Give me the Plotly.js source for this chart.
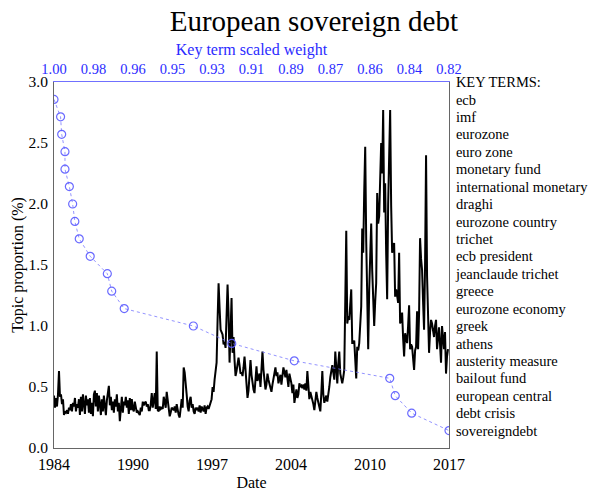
<!DOCTYPE html>
<html><head><meta charset="utf-8">
<script src="https://cdn.plot.ly/plotly-3.0.1.min.js"></script>
<style>html,body{margin:0;padding:0;background:#fff;}#chart{width:596px;height:491px;}</style>
</head><body><div id="chart"></div>
<script>
// Monthly topic proportion (%), starting January 1984
const startYear = 1984;
const topicShare = [
  0.43,0.33,0.41,0.34,0.44,0.63,0.42,0.44,0.36,0.40,0.27,0.30, // 1984
  0.29,0.31,0.28,0.33,0.31,0.36,0.30,0.37,0.34,0.41,0.30,0.36, // 1985
  0.33,0.40,0.27,0.42,0.30,0.44,0.36,0.28,0.43,0.35,0.40,0.29, // 1986
  0.41,0.28,0.37,0.26,0.44,0.47,0.34,0.45,0.30,0.43,0.36,0.27, // 1987
  0.40,0.30,0.43,0.36,0.27,0.39,0.45,0.51,0.35,0.42,0.31,0.38, // 1988
  0.29,0.40,0.34,0.44,0.30,0.37,0.22,0.33,0.42,0.29,0.38,0.35, // 1989
  0.42,0.33,0.39,0.28,0.41,0.31,0.40,0.32,0.30,0.38,0.31,0.29, // 1990
  0.30,0.28,0.27,0.33,0.30,0.38,0.35,0.37,0.38,0.34,0.36,0.31, // 1991
  0.31,0.36,0.45,0.33,0.38,0.45,0.32,0.79,0.31,0.30,0.34,0.32, // 1992
  0.33,0.32,0.42,0.36,0.33,0.46,0.38,0.31,0.26,0.29,0.33,0.32, // 1993
  0.31,0.34,0.29,0.36,0.30,0.27,0.25,0.34,0.40,0.33,0.66,0.62, // 1994
  0.55,0.44,0.34,0.30,0.39,0.42,0.33,0.36,0.30,0.28,0.33,0.31, // 1995
  0.33,0.30,0.35,0.29,0.34,0.31,0.30,0.35,0.28,0.33,0.34,0.32, // 1996
  0.35,0.36,0.40,0.50,0.46,0.56,0.63,0.70,1.05,1.35,1.15,0.97, // 1997
  0.95,0.93,0.85,0.87,0.82,1.10,1.34,1.10,0.70,0.95,1.23,0.78, // 1998
  0.91,0.72,0.59,0.63,0.67,0.74,0.68,0.61,0.62,0.59,0.66,0.75, // 1999
  0.64,0.55,0.41,0.47,0.59,0.72,0.60,0.52,0.48,0.45,0.56,0.67, // 2000
  0.55,0.58,0.61,0.50,0.62,0.79,0.64,0.55,0.48,0.52,0.61,0.56, // 2001
  0.53,0.49,0.46,0.52,0.57,0.62,0.66,0.59,0.62,0.53,0.57,0.60, // 2002
  0.52,0.60,0.66,0.62,0.58,0.64,0.56,0.50,0.61,0.57,0.53,0.45, // 2003
  0.52,0.37,0.45,0.48,0.41,0.44,0.53,0.50,0.51,0.49,0.52,0.48, // 2004
  0.53,0.47,0.63,0.50,0.40,0.46,0.43,0.41,0.36,0.31,0.38,0.46, // 2005
  0.41,0.38,0.35,0.30,0.45,0.63,0.44,0.37,0.40,0.43,0.38,0.43, // 2006
  0.50,0.58,0.63,0.68,0.62,0.56,0.79,0.66,0.53,0.69,0.79,0.61, // 2007
  0.55,0.53,0.58,0.64,1.20,1.78,1.02,1.08,1.05,1.15,1.30,0.86, // 2008
  0.86,0.88,0.70,0.57,0.83,0.80,0.86,1.00,1.16,1.80,1.60,2.10, // 2009
  2.47,1.70,1.10,0.81,1.30,1.60,1.84,1.46,1.20,1.00,1.20,1.35, // 2010
  2.09,1.84,1.90,2.30,2.50,2.25,2.77,1.93,2.17,1.60,1.22,2.00, // 2011
  2.40,2.77,1.99,1.60,1.65,1.68,1.24,1.30,1.25,1.19,1.60,1.02, // 2012
  1.05,1.11,0.90,0.75,0.94,0.90,0.86,1.00,1.17,0.81,0.85,0.83, // 2013
  0.72,0.64,0.80,0.83,1.12,0.81,1.10,1.72,1.55,1.46,1.20,0.97, // 2014
  1.50,2.40,1.41,1.00,0.78,0.95,1.05,1.02,0.95,0.91,1.00,1.05, // 2015
  0.81,0.90,0.99,0.85,0.70,1.00,0.88,0.81,0.95,0.61,0.75,0.81  // 2016
];

const keyTerms = ['ecb','imf','eurozone','euro zone','monetary fund','international monetary',
  'draghi','eurozone country','trichet','ecb president','jeanclaude trichet','greece',
  'eurozone economy','greek','athens','austerity measure','bailout fund','european central',
  'debt crisis','sovereigndebt'];
const termWeights = [1.000,0.997,0.9965,0.995,0.995,0.993,0.9915,0.9905,0.9885,0.9835,
  0.9757,0.9737,0.968,0.9365,0.919,0.8905,0.847,0.8445,0.837,0.820];
const keyHeader = 'KEY TERMS:';

const dateTickLabels = ['1984','1990','1997','2004','2010','2017'];
const weightTickLabels = ['1.00','0.98','0.96','0.95','0.93','0.91','0.89','0.87','0.86','0.84','0.82'];
const yTickVals = [0,0.5,1,1.5,2,2.5,3];

const dates = topicShare.map((_, i) => startYear + i / 12);
const dateTickVals = dateTickLabels.map((_, i) => 1984 + i * 33 / 5);
const weightTickVals = weightTickLabels.map((_, i) => 1 - i * 0.018);
const termPos = keyTerms.map((_, i) => keyTerms.length - i);

const serif = '"Liberation Serif", "Times New Roman", serif';
const blue = '#2b2bff';

const traces = [
  {x: dates, y: topicShare, type: 'scatter', mode: 'lines',
   line: {color: '#000', width: 2}, xaxis: 'x', yaxis: 'y', hoverinfo: 'skip'},
  {x: termWeights, y: termPos, type: 'scatter', mode: 'lines+markers',
   line: {color: 'rgba(120,120,255,0.8)', width: 1, dash: 'dot'},
   marker: {symbol: 'circle-open', size: 8, color: 'rgba(90,90,255,0.9)', line: {width: 1.2}},
   xaxis: 'x2', yaxis: 'y2', hoverinfo: 'skip'}
];

const layout = {
  width: 596, height: 491,
  margin: {l: 54, r: 147, t: 82, b: 43, pad: 0},
  paper_bgcolor: '#fff', plot_bgcolor: '#fff',
  showlegend: false,
  font: {family: serif, size: 14, color: '#000'},
  title: {text: 'European sovereign debt', font: {family: serif, size: 29, color: '#000'},
          xref: 'paper', x: 0.658, xanchor: 'center', yref: 'container', y: 0.958, yanchor: 'middle'},
  xaxis: {range: [1984, 2017], tickmode: 'array', tickvals: dateTickVals, ticktext: dateTickLabels,
          showline: true, linecolor: '#666', linewidth: 1, ticks: '', showgrid: false, zeroline: false,
          ticklabelstandoff: 2,
          tickfont: {size: 16}, title: {text: 'Date', font: {size: 16}, standoff: 4}},
  xaxis2: {overlaying: 'x', side: 'top', anchor: 'y2', range: [1, 0.82], tickmode: 'array',
           tickvals: weightTickVals, ticktext: weightTickLabels, showline: true, linecolor: '#7070ff',
           linewidth: 1, ticks: '', showgrid: false, zeroline: false, tickfont: {size: 14.5, color: blue},
           ticklabelstandoff: 1,
           title: {text: 'Key term scaled weight', font: {size: 16, color: blue}, standoff: 1}},
  yaxis: {range: [0, 3], tickmode: 'array', tickvals: yTickVals, tickformat: '.1f',
          showline: true, linecolor: '#666', linewidth: 1, ticks: '', showgrid: false, zeroline: false,
          ticklabelstandoff: 2,
          tickfont: {size: 15.5}, title: {text: 'Topic proportion (%)', font: {size: 16}, standoff: 0}},
  yaxis2: {overlaying: 'y', side: 'right', anchor: 'x2', range: [0, 21], tickmode: 'array',
           tickvals: [keyTerms.length + 1].concat(termPos), ticktext: [keyHeader].concat(keyTerms),
           showline: true, linecolor: '#666', linewidth: 1, ticks: '', showgrid: false, zeroline: false,
           ticklabelstandoff: 3,
           tickfont: {size: 14.5, color: '#000'}}
};

Plotly.newPlot('chart', traces, layout, {displayModeBar: false, staticPlot: true});
</script>
</body></html>
